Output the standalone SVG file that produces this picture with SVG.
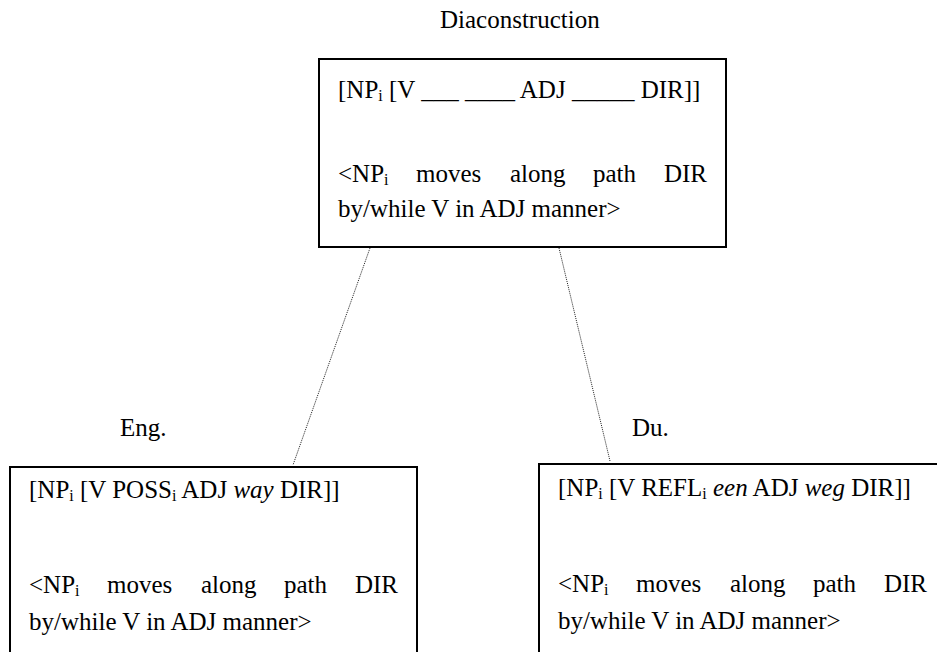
<svg xmlns="http://www.w3.org/2000/svg" width="937" height="652" viewBox="0 0 937 652">
<style>
.t { font-family: "Liberation Serif", "Times New Roman", serif; font-size: 25px; fill: #000; }
.sub { font-size: 16px; }
.it { font-style: italic; }
.box { fill: none; stroke: #000; stroke-width: 2; }
.conn { fill: none; stroke: #222; stroke-width: 1; stroke-dasharray: 1 1; }
</style>
<rect width="937" height="652" fill="#fff"/>
<g id="connectors">
  <line class="conn" x1="370" y1="248" x2="293" y2="465"/>
  <line class="conn" x1="559" y1="248" x2="610" y2="461"/>
</g>
<g id="node-diaconstruction">
  <text class="t" x="440" y="28">Diaconstruction</text>
  <rect class="box" x="319" y="59" width="407" height="188"/>
  <text class="t" x="338" y="98">[NP<tspan class="sub" dy="3">i</tspan><tspan dy="-3"> [V ___ ____ ADJ _____ DIR]]</tspan></text>
  <text class="t" y="182"><tspan x="338">&lt;NP</tspan><tspan class="sub" dy="3">i</tspan><tspan x="416" dy="-3">moves</tspan><tspan x="510">along</tspan><tspan x="593">path</tspan></text>
  <text class="t" x="707" y="182" text-anchor="end">DIR</text>
  <text class="t" x="338" y="217">by/while V in ADJ manner&gt;</text>
</g>
<g id="node-eng">
  <text class="t" x="120" y="436">Eng.</text>
  <rect class="box" x="10" y="467" width="407" height="200"/>
  <text class="t" x="29" y="498">[NP<tspan class="sub" dy="3">i</tspan><tspan dy="-3"> [V POSS</tspan><tspan class="sub" dy="3">i</tspan><tspan dy="-3"> ADJ </tspan><tspan class="it">way</tspan> DIR]]</text>
  <text class="t" y="593"><tspan x="29">&lt;NP</tspan><tspan class="sub" dy="3">i</tspan><tspan x="107" dy="-3">moves</tspan><tspan x="201">along</tspan><tspan x="284">path</tspan></text>
  <text class="t" x="398" y="593" text-anchor="end">DIR</text>
  <text class="t" x="29" y="630">by/while V in ADJ manner&gt;</text>
</g>
<g id="node-du">
  <text class="t" x="632" y="436">Du.</text>
  <rect class="box" x="539" y="464" width="407" height="200"/>
  <text class="t" x="558" y="496">[NP<tspan class="sub" dy="3">i</tspan><tspan dy="-3"> [V REFL</tspan><tspan class="sub" dy="3">i</tspan><tspan dy="-3"> </tspan><tspan class="it">een</tspan> ADJ <tspan class="it">weg</tspan> DIR]]</text>
  <text class="t" y="592"><tspan x="558">&lt;NP</tspan><tspan class="sub" dy="3">i</tspan><tspan x="636" dy="-3">moves</tspan><tspan x="730">along</tspan><tspan x="813">path</tspan></text>
  <text class="t" x="927" y="592" text-anchor="end">DIR</text>
  <text class="t" x="558" y="629">by/while V in ADJ manner&gt;</text>
</g>
</svg>
